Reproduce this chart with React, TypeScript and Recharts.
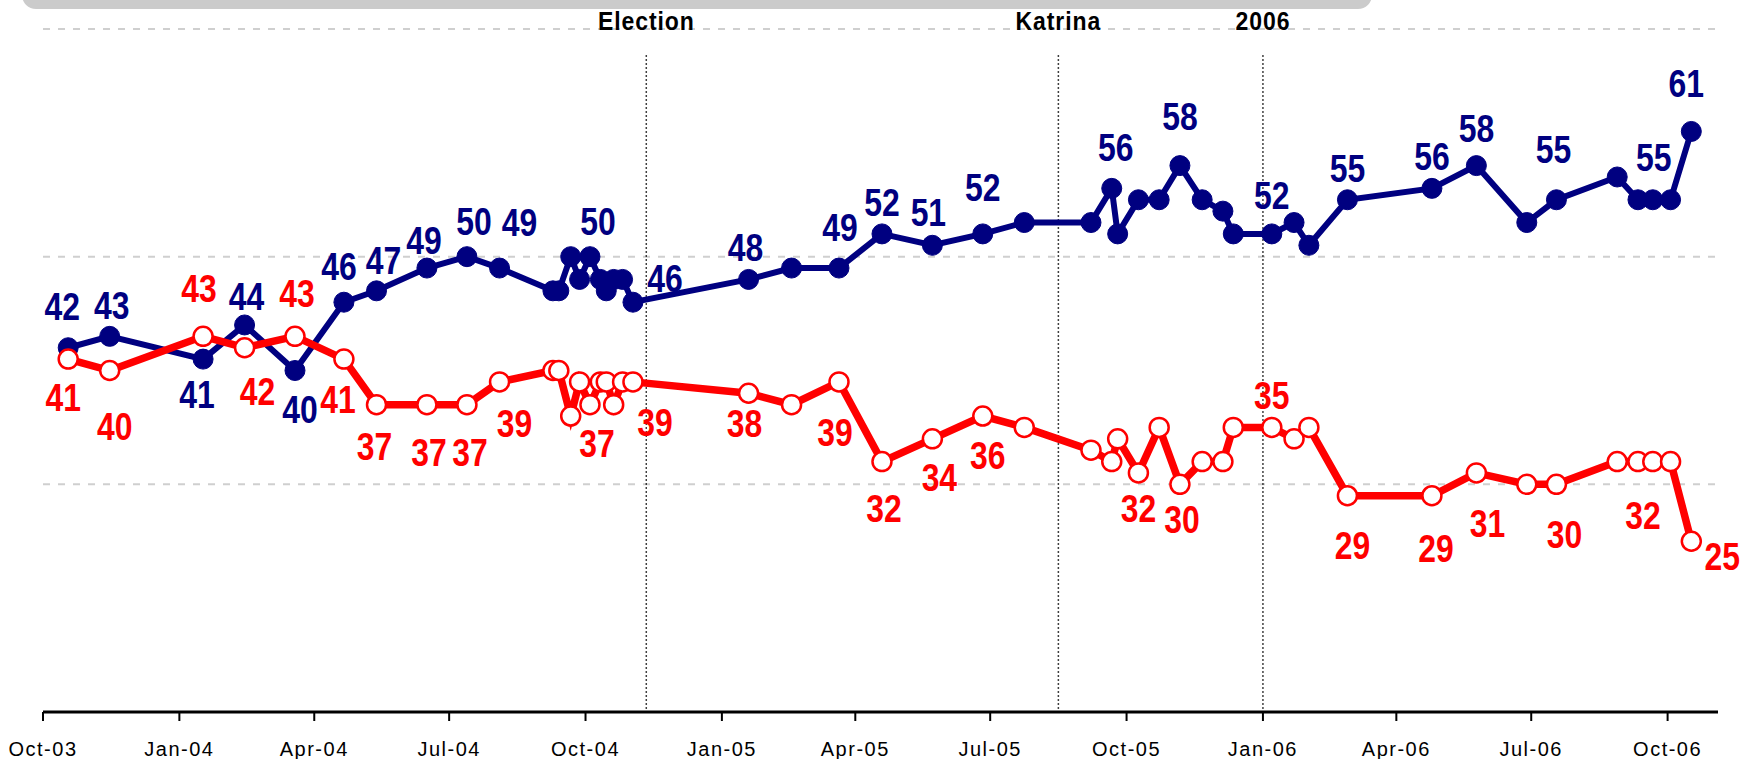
import React from 'react';
import { LineChart, Line, XAxis, YAxis, CartesianGrid, ReferenceLine, LabelList } from 'recharts';

// survey dates (one per poll)
const dates = [
  '2003-10-18', '2003-11-15', '2004-01-17', '2004-02-14', '2004-03-19', '2004-04-21', '2004-05-13', '2004-06-16', '2004-07-13', '2004-08-04',
  '2004-09-09', '2004-09-13', '2004-09-21', '2004-09-27', '2004-10-04', '2004-10-11', '2004-10-15', '2004-10-20', '2004-10-26', '2004-11-02',
  '2005-01-19', '2005-02-17', '2005-03-21', '2005-04-19', '2005-05-23', '2005-06-26', '2005-07-24', '2005-09-07', '2005-09-21', '2005-09-25',
  '2005-10-09', '2005-10-23', '2005-11-06', '2005-11-21', '2005-12-05', '2005-12-12', '2006-01-07', '2006-01-22', '2006-02-01', '2006-02-27',
  '2006-04-25', '2006-05-25', '2006-06-28', '2006-07-18', '2006-08-28', '2006-09-11', '2006-09-21', '2006-10-03', '2006-10-17',
];

const blueValues = [
  42, 43, 41, 44, 40, 46, 47, 49, 50, 49,
  47, 47, 50, 48, 50, 48, 47, 48, 48, 46,
  48, 49, 49, 52, 51, 52, 53, 53, 56, 52,
  55, 55, 58, 55, 54, 52, 52, 53, 51, 55,
  56, 58, 53, 55, 57, 55, 55, 55, 61,
];

const redValues = [
  41, 40, 43, 42, 43, 41, 37, 37, 37, 39,
  40, 40, 36, 39, 37, 39, 39, 37, 39, 39,
  38, 37, 39, 32, 34, 36, 35, 33, 32, 34,
  31, 35, 30, 32, 32, 35, 35, 34, 35, 29,
  29, 31, 30, 30, 32, 32, 32, 32, 25,
];

// printed numbers (null = no label on that poll)
const blueLabels = [
  42, 43, 41, 44, 40, 46, 47, 49, 50, 49,
  null, null, null, null, 50, null, null, null, null, 46,
  48, null, 49, 52, 51, 52, null, null, 56, null,
  null, null, 58, null, null, null, 52, null, null, 55,
  56, 58, null, 55, null, null, 55, null, 61,
];

const redLabels = [
  41, 40, 43, 42, 43, 41, 37, 37, 37, 39,
  null, null, null, null, 37, null, null, null, null, 39,
  38, null, 39, 32, 34, 36, null, null, null, null,
  32, null, 30, null, null, null, 35, null, null, 29,
  29, 31, null, 30, null, 32, null, null, 25,
];

const tickDates = [
  '2003-10-01', '2004-01-01', '2004-04-01', '2004-07-01', '2004-10-01', '2005-01-01', '2005-04-01',
  '2005-07-01', '2005-10-01', '2006-01-01', '2006-04-01', '2006-07-01', '2006-10-01',
];
const domainDates = ['2003-10-01', '2006-11-04'];

const eventDates = ['2004-11-11', '2005-08-16', '2006-01-01'];
const eventNames = ['Election', 'Katrina', '2006'];

const yTicks = [10, 30, 50, 70];

// label nudges [dx, dy] in px from the point
const blueOffsets: Record<number, [number, number]> = {
  0: [-6, -42], 1: [2, -31], 2: [-6, 35], 3: [2, -29], 4: [5, 38], 5: [-5, -36], 6: [7, -31], 7: [-3, -28],
  8: [7, -36], 9: [20, -46], 14: [8, -36], 19: [32, -24], 20: [-3, -32], 22: [1, -41], 23: [0, -32], 24: [-4, -33],
  25: [0, -47], 28: [4, -41], 32: [0, -50], 36: [0, -39], 39: [0, -32], 40: [0, -32], 41: [0, -38], 43: [-3, -51],
  46: [1, -43], 48: [-5, -48],
};
const redOffsets: Record<number, [number, number]> = {
  0: [-5, 38], 1: [5, 55], 2: [-4, -48], 3: [13, 43], 4: [2, -43], 5: [-6, 40], 6: [-2, 41], 7: [2, 47], 8: [3, 47],
  9: [15, 41], 14: [7, 38], 19: [22, 40], 20: [-4, 30], 22: [-4, 50], 23: [2, 46], 24: [7, 38], 25: [5, 39],
  30: [0, 35], 32: [2, 35], 36: [0, -32], 39: [5, 49], 40: [4, 52], 41: [11, 50], 43: [8, 50], 45: [5, 53], 48: [31, 15],
};

const BLUE = '#000080';
const RED = '#ff0000';
const FONT = '"Liberation Sans", Arial, sans-serif';
const MONTHS = ['Jan', 'Feb', 'Mar', 'Apr', 'May', 'Jun', 'Jul', 'Aug', 'Sep', 'Oct', 'Nov', 'Dec'];

const toTime = (s: string) => Date.UTC(+s.slice(0, 4), +s.slice(5, 7) - 1, +s.slice(8, 10));
const fmtTick = (t: number) => {
  const d = new Date(t);
  return `${MONTHS[d.getUTCMonth()]}-${String(d.getUTCFullYear()).slice(2)}`;
};

const rows = dates.map((d, i) => ({
  t: toTime(d),
  blue: blueValues[i],
  red: redValues[i],
  blueLabel: blueLabels[i],
  redLabel: redLabels[i],
}));

const makeLabel = (offsets: Record<number, [number, number]>, color: string) => (props: any) => {
  const { x, y, value, index } = props;
  if (value == null || x == null) return null;
  const [dx, dy] = offsets[index] || [0, -35];
  return (
    <text
      transform={`translate(${x + dx},${y + dy + 14}) scale(0.84,1)`}
      textAnchor="middle"
      fill={color}
      fontSize={38}
      fontWeight="bold"
      fontFamily={FONT}
    >
      {value}
    </text>
  );
};

const XTick = ({ x, y, payload }: any) => (
  <text x={x} y={y + 15} textAnchor="middle" fill="#000" fontSize={20} fontFamily={FONT} letterSpacing={1.5}>
    {fmtTick(payload.value)}
  </text>
);

const eventLabel = (name: string) => ({ viewBox }: any) => (
  <text
    transform={`translate(${viewBox.x},${viewBox.y - 25}) scale(0.92,1)`}
    textAnchor="middle"
    fill="#000"
    fontSize={25}
    fontWeight="bold"
    fontFamily={FONT}
    letterSpacing={1}
  >
    {name}
  </text>
);

export default function App() {
  return (
    <div style={{ position: 'absolute', left: 0, top: 0, width: 1752, height: 759, background: '#fff', overflow: 'hidden' }}>
      <div style={{ position: 'absolute', left: 22, top: -30, width: 1350, height: 39, borderRadius: 14, background: '#cbcbcb' }} />
      <LineChart width={1752} height={759} data={rows} margin={{ top: 29, right: 34, left: 43, bottom: 0 }} style={{ fontFamily: FONT }}>
        <CartesianGrid vertical={false} stroke="#cfcfcf" strokeWidth={2} strokeDasharray="7 8" />
        <XAxis
          dataKey="t"
          type="number"
          domain={domainDates.map(toTime)}
          ticks={tickDates.map(toTime)}
          interval={0}
          height={47}
          tickSize={9}
          tickMargin={20}
          axisLine={{ stroke: '#000', strokeWidth: 3 }}
          tickLine={{ stroke: '#000', strokeWidth: 2 }}
          tick={<XTick />}
        />
        <YAxis hide width={0} domain={[10, 70]} ticks={yTicks} />
        {eventDates.map((d, i) => (
          <ReferenceLine
            key={d}
            segment={[{ x: toTime(d), y: 67.7 }, { x: toTime(d), y: 10 }]}
            stroke="#000"
            strokeWidth={1.5}
            strokeDasharray="1.5 2.5"
            label={eventLabel(eventNames[i])}
          />
        ))}
        <Line
          type="linear"
          dataKey="blue"
          stroke={BLUE}
          strokeWidth={6}
          dot={{ r: 10, fill: BLUE, stroke: BLUE, strokeWidth: 1 }}
          isAnimationActive={false}
        >
          <LabelList dataKey="blueLabel" content={makeLabel(blueOffsets, BLUE)} />
        </Line>
        <Line
          type="linear"
          dataKey="red"
          stroke={RED}
          strokeWidth={7.5}
          dot={{ r: 9.5, fill: '#fff', stroke: RED, strokeWidth: 2.5 }}
          isAnimationActive={false}
        >
          <LabelList dataKey="redLabel" content={makeLabel(redOffsets, RED)} />
        </Line>
      </LineChart>
    </div>
  );
}
